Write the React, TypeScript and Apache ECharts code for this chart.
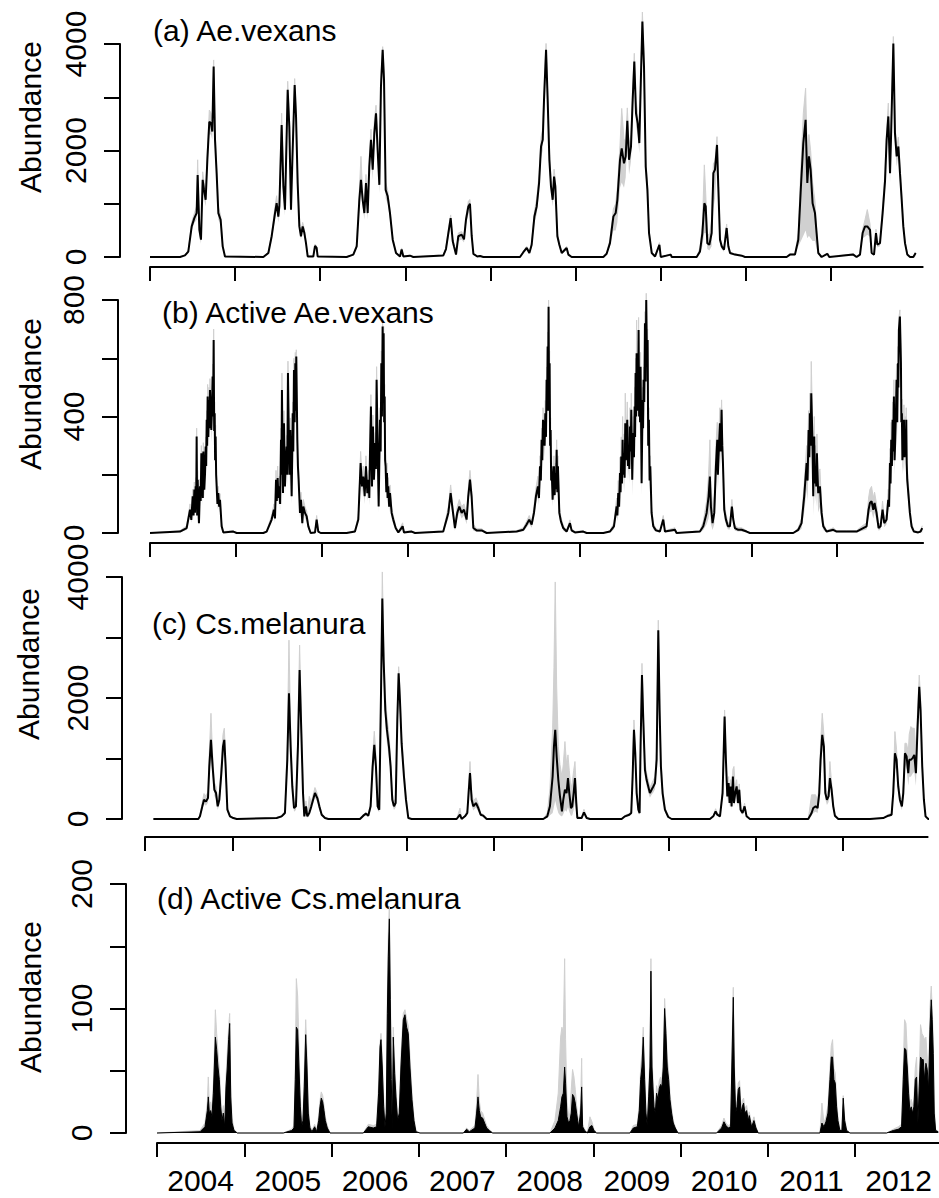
import React, { useEffect, useRef } from "react";
import * as echarts from "echarts";

const FONT = "'Liberation Sans', Arial, Helvetica, sans-serif";

const yearTicks = [2004, 2005, 2006, 2007, 2008, 2009, 2010, 2011, 2012];
const yearLabelPos = [2004.5, 2005.5, 2006.5, 2007.5, 2008.5, 2009.5, 2010.5, 2011.5, 2012.5];

// ---------- (a) Ae.vexans ----------
const vexT = [
  2004.000, 2004.353, 2004.411, 2004.450, 2004.490, 2004.521, 2004.548, 2004.560, 2004.580, 2004.599, 2004.619, 2004.635, 2004.654, 2004.674, 2004.697, 2004.717, 2004.732, 2004.748, 2004.764, 2004.783, 2004.803, 2004.830, 2004.854, 2004.881,
  2005.332, 2005.391, 2005.430, 2005.469, 2005.488, 2005.508, 2005.520, 2005.547, 2005.567, 2005.586, 2005.618, 2005.637, 2005.657, 2005.673, 2005.700, 2005.716, 2005.735, 2005.755, 2005.774, 2005.794, 2005.814, 2005.833, 2005.853, 2005.919, 2005.939, 2005.958, 2005.970,
  2006.311, 2006.389, 2006.429, 2006.460, 2006.479, 2006.499, 2006.519, 2006.538, 2006.558, 2006.577, 2006.597, 2006.617, 2006.636, 2006.656, 2006.675, 2006.695, 2006.714, 2006.734, 2006.750, 2006.769, 2006.793, 2006.820, 2006.852, 2006.891, 2006.938, 2006.957, 2006.977, 2007.055, 2007.094,
  2007.447, 2007.478, 2007.506, 2007.533, 2007.557, 2007.572, 2007.596, 2007.623, 2007.662, 2007.690, 2007.713, 2007.741, 2007.760, 2007.780, 2007.800, 2007.846, 2007.878, 2007.917,
  2008.348, 2008.387, 2008.427, 2008.458, 2008.485, 2008.517, 2008.544, 2008.572, 2008.595, 2008.615, 2008.630, 2008.654, 2008.673, 2008.693, 2008.712, 2008.732, 2008.748, 2008.763, 2008.787, 2008.810, 2008.838, 2008.896, 2008.916, 2008.955,
  2009.327, 2009.366, 2009.405, 2009.445, 2009.472, 2009.492, 2009.523, 2009.543, 2009.570, 2009.590, 2009.609, 2009.629, 2009.652, 2009.672, 2009.691, 2009.711, 2009.731, 2009.750, 2009.770, 2009.786, 2009.805, 2009.825, 2009.845, 2009.864, 2009.896, 2009.935, 2009.986, 2010.002, 2010.119, 2010.131,
  2010.424, 2010.463, 2010.491, 2010.514, 2010.530, 2010.549, 2010.573, 2010.600, 2010.620, 2010.639, 2010.663, 2010.678, 2010.698, 2010.718, 2010.745, 2010.776, 2010.796, 2010.816, 2010.874, 2010.953, 2010.992,
  2011.481, 2011.520, 2011.579, 2011.618, 2011.649, 2011.677, 2011.704, 2011.724, 2011.743, 2011.763, 2011.786, 2011.814, 2011.833, 2011.853, 2011.892, 2011.959, 2011.982, 2012.264, 2012.303,
  2012.343, 2012.374, 2012.402, 2012.429, 2012.461, 2012.480, 2012.508, 2012.531, 2012.547, 2012.578, 2012.609, 2012.637, 2012.656, 2012.676, 2012.696, 2012.707, 2012.735, 2012.754, 2012.774, 2012.794, 2012.813, 2012.833, 2012.852, 2012.872, 2012.899, 2012.931, 2012.970, 2012.997,
];
const vexMean = [
  0, 0, 30, 100, 575, 730, 825, 1540, 510, 325, 1450, 1260, 1075, 1825, 2540, 2510, 2355, 3575, 2200, 1575, 825, 700, 200, 10,
  0, 75, 390, 825, 1010, 760, 950, 2480, 1325, 890, 3140, 2450, 890, 1825, 3230, 2640, 1390, 575, 390, 575, 450, 260, 10, 10, 210, 170, 10,
  0, 45, 200, 1075, 1450, 1075, 825, 1390, 825, 1700, 2200, 1640, 2325, 2700, 2010, 1355, 3200, 3890, 3325, 1260, 1140, 825, 325, 75, 10, 140, 10, 25, 0,
  30, 150, 450, 730, 300, 200, 45, 390, 420, 330, 700, 950, 1000, 400, 60, 10, 20, 0,
  0, 90, 170, 75, 230, 760, 950, 1390, 2075, 2200, 2950, 3890, 2950, 1825, 1325, 1075, 1510, 1325, 390, 230, 75, 170, 45, 0,
  0, 60, 260, 760, 825, 1075, 1825, 2040, 1760, 1890, 2560, 1825, 2075, 2950, 3670, 2700, 2510, 2140, 3450, 4420, 3575, 1700, 1260, 450, 75, 10, 230, 0, 45, 0,
  0, 105, 450, 1010, 950, 260, 230, 450, 1575, 1640, 2105, 1325, 325, 200, 140, 545, 200, 75, 45, 25, 0,
  0, 45, 45, 325, 1325, 2140, 2575, 1390, 1890, 1640, 1010, 825, 450, 75, 0, 60, 0, 45, 0,
  45, 450, 575, 575, 510, 75, 45, 450, 230, 260, 825, 1420, 2200, 2640, 1575, 2200, 4010, 2325, 1890, 2075, 1575, 1075, 575, 260, 45, 0, 0, 75,
];
const vexLow = [
  0, 0, 20, 70, 500, 640, 700, 1300, 420, 250, 1300, 1100, 950, 1650, 2300, 2300, 2200, 3400, 2000, 1450, 700, 620, 150, 0,
  0, 50, 330, 700, 870, 650, 850, 2250, 1150, 780, 2900, 2250, 780, 1650, 3000, 2450, 1250, 500, 330, 500, 380, 200, 0, 0, 170, 140, 0,
  0, 30, 160, 900, 1250, 950, 700, 1200, 700, 1500, 2000, 1450, 2100, 2500, 1800, 1200, 3000, 3750, 3100, 1100, 1000, 700, 270, 50, 0, 110, 0, 15, 0,
  20, 100, 350, 600, 220, 150, 30, 300, 330, 270, 600, 800, 900, 330, 40, 0, 10, 0,
  0, 70, 130, 50, 180, 650, 800, 1200, 1850, 2000, 2700, 3700, 2750, 1650, 1200, 950, 1350, 1200, 330, 180, 50, 130, 30, 0,
  0, 40, 200, 500, 500, 650, 1300, 1400, 1300, 1500, 2250, 1550, 1800, 2700, 3450, 2450, 2300, 1950, 3250, 4200, 3350, 1500, 1100, 380, 50, 0, 180, 0, 30, 0,
  0, 60, 200, 450, 450, 150, 120, 200, 900, 1100, 1700, 1050, 250, 150, 100, 450, 150, 50, 30, 15, 0,
  0, 30, 30, 200, 300, 400, 500, 350, 400, 350, 300, 300, 150, 40, 0, 40, 0, 30, 0,
  30, 350, 380, 420, 380, 50, 30, 380, 180, 200, 700, 1250, 2000, 2400, 1400, 2000, 3850, 2100, 1700, 1900, 1400, 950, 500, 200, 30, 0, 0, 60,
];
const vexHigh = [
  0, 0, 40, 130, 650, 820, 950, 1825, 600, 400, 1600, 1400, 1200, 2000, 2760, 2700, 2500, 3700, 2400, 1700, 950, 780, 250, 20,
  0, 100, 450, 950, 1150, 850, 1050, 2700, 1500, 1000, 3300, 2650, 1000, 2000, 3350, 2800, 1550, 650, 450, 650, 520, 300, 20, 20, 240, 200, 20,
  0, 60, 240, 1250, 1890, 1200, 950, 1550, 950, 1900, 2400, 1800, 2550, 2850, 2200, 1500, 3400, 3950, 3500, 1400, 1250, 900, 380, 90, 20, 170, 20, 35, 0,
  40, 180, 520, 790, 360, 240, 60, 450, 480, 380, 760, 1050, 1080, 450, 80, 20, 30, 0,
  0, 110, 200, 100, 280, 850, 1100, 1550, 2250, 2400, 3150, 4010, 3100, 2000, 1450, 1200, 1650, 1450, 450, 270, 90, 200, 60, 0,
  0, 80, 330, 900, 1000, 1300, 2100, 2790, 2200, 2200, 2800, 2100, 2300, 3200, 3825, 2950, 2700, 2350, 3600, 4600, 3750, 1850, 1400, 520, 90, 20, 270, 0, 60, 0,
  0, 180, 600, 1730, 1200, 450, 400, 700, 1750, 1800, 2260, 1450, 380, 240, 170, 620, 240, 90, 60, 35, 0,
  0, 60, 60, 450, 1700, 2700, 3170, 1900, 2300, 2000, 1400, 1050, 550, 90, 0, 75, 0, 60, 0,
  60, 520, 700, 890, 620, 100, 60, 520, 270, 300, 950, 1600, 2400, 2890, 1750, 2400, 4140, 2500, 2050, 2250, 1700, 1200, 650, 300, 60, 0, 0, 90,
];

// ---------- (b) Active Ae.vexans ----------
const actVexT = [
  2004.000, 2004.349, 2004.427, 2004.466, 2004.481, 2004.497, 2004.507, 2004.516, 2004.524, 2004.532, 2004.538, 2004.543, 2004.549, 2004.555, 2004.562, 2004.570, 2004.582, 2004.590, 2004.598, 2004.603, 2004.609, 2004.615, 2004.621, 2004.632, 2004.640, 2004.648, 2004.654, 2004.660, 2004.665, 2004.671, 2004.679, 2004.687, 2004.692, 2004.698, 2004.714, 2004.721, 2004.729, 2004.735, 2004.741, 2004.747, 2004.753, 2004.758, 2004.764, 2004.770, 2004.776, 2004.785, 2004.795, 2004.805, 2004.815, 2004.834, 2004.854, 2004.970, 2005.009,
  2005.319, 2005.358, 2005.416, 2005.443, 2005.455, 2005.467, 2005.476, 2005.486, 2005.495, 2005.505, 2005.515, 2005.525, 2005.530, 2005.536, 2005.548, 2005.554, 2005.560, 2005.571, 2005.581, 2005.591, 2005.598, 2005.606, 2005.618, 2005.625, 2005.633, 2005.649, 2005.655, 2005.661, 2005.668, 2005.676, 2005.684, 2005.692, 2005.697, 2005.703, 2005.715, 2005.722, 2005.730, 2005.746, 2005.758, 2005.773, 2005.785, 2005.804, 2005.824, 2005.843, 2005.870, 2005.921, 2005.940, 2005.959, 2005.987,
  2006.289, 2006.386, 2006.425, 2006.452, 2006.468, 2006.483, 2006.499, 2006.514, 2006.530, 2006.545, 2006.553, 2006.561, 2006.572, 2006.584, 2006.596, 2006.607, 2006.623, 2006.630, 2006.638, 2006.650, 2006.662, 2006.677, 2006.685, 2006.693, 2006.700, 2006.708, 2006.714, 2006.720, 2006.726, 2006.732, 2006.737, 2006.743, 2006.751, 2006.759, 2006.766, 2006.774, 2006.784, 2006.794, 2006.813, 2006.832, 2006.860, 2006.891, 2006.941, 2006.957, 2007.046, 2007.085,
  2007.414, 2007.473, 2007.500, 2007.523, 2007.550, 2007.577, 2007.601, 2007.628, 2007.655, 2007.686, 2007.705, 2007.725, 2007.744, 2007.764, 2007.802, 2007.861, 2007.919,
  2008.268, 2008.346, 2008.384, 2008.415, 2008.443, 2008.470, 2008.493, 2008.516, 2008.528, 2008.540, 2008.550, 2008.559, 2008.567, 2008.575, 2008.586, 2008.594, 2008.602, 2008.610, 2008.617, 2008.623, 2008.629, 2008.635, 2008.640, 2008.646, 2008.652, 2008.658, 2008.664, 2008.670, 2008.675, 2008.687, 2008.703, 2008.711, 2008.718, 2008.726, 2008.734, 2008.742, 2008.749, 2008.765, 2008.784, 2008.811, 2008.850, 2008.889, 2008.908, 2008.947, 2009.044, 2009.083,
  2009.277, 2009.354, 2009.401, 2009.432, 2009.441, 2009.451, 2009.461, 2009.471, 2009.478, 2009.486, 2009.494, 2009.502, 2009.509, 2009.517, 2009.525, 2009.533, 2009.539, 2009.545, 2009.556, 2009.564, 2009.572, 2009.580, 2009.587, 2009.595, 2009.603, 2009.614, 2009.620, 2009.626, 2009.634, 2009.642, 2009.647, 2009.653, 2009.659, 2009.665, 2009.670, 2009.676, 2009.682, 2009.688, 2009.694, 2009.700, 2009.705, 2009.711, 2009.723, 2009.729, 2009.735, 2009.740, 2009.746, 2009.754, 2009.762, 2009.770, 2009.777, 2009.785, 2009.793, 2009.800, 2009.808, 2009.816, 2009.824, 2009.839, 2009.859, 2009.890, 2009.936, 2009.975, 2009.995, 2010.111, 2010.130,
  2010.402, 2010.441, 2010.480, 2010.503, 2010.518, 2010.530, 2010.549, 2010.569, 2010.588, 2010.604, 2010.611, 2010.619, 2010.635, 2010.645, 2010.654, 2010.662, 2010.670, 2010.685, 2010.705, 2010.728, 2010.751, 2010.774, 2010.790, 2010.809, 2010.848, 2010.887, 2010.945, 2010.984,
  2011.488, 2011.547, 2011.585, 2011.616, 2011.644, 2011.655, 2011.667, 2011.675, 2011.682, 2011.690, 2011.698, 2011.710, 2011.721, 2011.733, 2011.740, 2011.748, 2011.756, 2011.764, 2011.771, 2011.779, 2011.799, 2011.818, 2011.838, 2011.876, 2011.954, 2011.993, 2012.109, 2012.226, 2012.264,
  2012.342, 2012.365, 2012.381, 2012.400, 2012.420, 2012.435, 2012.458, 2012.482, 2012.505, 2012.528, 2012.548, 2012.575, 2012.594, 2012.604, 2012.614, 2012.621, 2012.629, 2012.637, 2012.645, 2012.652, 2012.660, 2012.668, 2012.676, 2012.683, 2012.691, 2012.699, 2012.707, 2012.712, 2012.718, 2012.730, 2012.742, 2012.747, 2012.753, 2012.759, 2012.765, 2012.771, 2012.777, 2012.784, 2012.792, 2012.798, 2012.804, 2012.809, 2012.815, 2012.831, 2012.846, 2012.866, 2012.893, 2012.943, 2012.971, 2012.990,
];
const actVexMean = [
  0, 5, 17, 80, 45, 126, 60, 149, 70, 160, 90, 331, 60, 183, 100, 34, 160, 110, 274, 140, 183, 120, 280, 149, 200, 297, 230, 389, 300, 469, 330, 457, 360, 491, 354, 420, 537, 400, 663, 350, 411, 250, 331, 200, 160, 100, 137, 90, 114, 23, 2, 5, 0,
  0, 5, 46, 80, 50, 183, 110, 189, 120, 160, 100, 320, 200, 491, 137, 250, 377, 160, 240, 297, 200, 549, 297, 200, 354, 126, 250, 411, 280, 560, 380, 583, 420, 606, 320, 230, 183, 69, 114, 34, 91, 69, 57, 23, 0, 2, 46, 5, 0,
  0, 5, 46, 240, 160, 194, 126, 229, 137, 183, 120, 274, 434, 160, 366, 183, 309, 220, 526, 297, 91, 389, 280, 583, 400, 709, 520, 686, 380, 469, 250, 229, 140, 206, 120, 160, 90, 137, 69, 46, 17, 2, 23, 2, 5, 0,
  5, 69, 137, 80, 17, 69, 91, 69, 80, 46, 126, 183, 126, 17, 9, 9, 0,
  5, 11, 29, 46, 29, 69, 126, 160, 120, 229, 180, 320, 250, 389, 343, 300, 411, 330, 526, 420, 640, 480, 777, 420, 583, 300, 354, 180, 229, 114, 229, 130, 206, 150, 286, 140, 229, 69, 40, 17, 5, 34, 9, 2, 5, 0,
  0, 5, 23, 91, 60, 137, 90, 206, 140, 263, 170, 320, 200, 274, 190, 377, 250, 251, 389, 230, 297, 220, 366, 280, 423, 183, 280, 343, 260, 434, 330, 549, 400, 617, 420, 549, 450, 697, 400, 503, 380, 571, 171, 320, 457, 360, 526, 450, 720, 520, 800, 600, 663, 300, 389, 180, 229, 69, 23, 9, 5, 46, 5, 11, 0,
  5, 23, 69, 126, 194, 91, 34, 69, 229, 320, 200, 263, 377, 280, 423, 300, 240, 80, 46, 23, 23, 91, 46, 17, 11, 11, 5, 0,
  0, 11, 34, 126, 240, 180, 354, 260, 411, 300, 480, 343, 126, 331, 170, 229, 160, 274, 200, 137, 160, 69, 23, 5, 11, 5, 5, 5, 11,
  23, 80, 103, 109, 80, 103, 69, 17, 23, 80, 34, 46, 114, 90, 240, 170, 320, 230, 389, 280, 469, 250, 320, 400, 526, 380, 583, 500, 697, 743, 583, 380, 411, 250, 274, 260, 389, 260, 354, 280, 389, 240, 183, 126, 69, 23, 5, 2, 5, 17,
];
const actVexLow = [
  0, 2, 10, 60, 35, 100, 45, 125, 55, 135, 70, 290, 45, 150, 80, 20, 130, 90, 240, 115, 150, 95, 245, 120, 170, 260, 195, 350, 260, 420, 290, 410, 320, 450, 310, 380, 490, 360, 620, 310, 370, 210, 290, 170, 130, 80, 110, 70, 90, 12, 0, 2, 0,
  0, 2, 35, 60, 35, 150, 85, 155, 95, 130, 75, 280, 160, 440, 110, 200, 335, 130, 200, 260, 160, 505, 260, 160, 315, 100, 200, 370, 240, 520, 340, 545, 380, 570, 280, 190, 150, 50, 90, 20, 70, 50, 40, 12, 0, 0, 35, 2, 0,
  0, 2, 35, 200, 130, 160, 100, 195, 110, 150, 95, 240, 395, 130, 330, 150, 275, 180, 480, 260, 70, 350, 240, 540, 360, 680, 480, 650, 340, 430, 210, 195, 110, 175, 95, 130, 70, 110, 50, 30, 10, 0, 12, 0, 2, 0,
  2, 50, 110, 60, 8, 50, 70, 50, 60, 30, 100, 150, 100, 8, 4, 4, 0,
  2, 6, 18, 32, 18, 50, 100, 130, 95, 195, 150, 280, 210, 350, 300, 260, 370, 290, 480, 370, 600, 430, 750, 370, 540, 260, 310, 150, 195, 90, 195, 100, 175, 120, 250, 110, 195, 50, 28, 8, 2, 22, 4, 0, 2, 0,
  0, 2, 12, 60, 40, 90, 60, 150, 100, 200, 130, 250, 150, 210, 140, 300, 190, 190, 320, 180, 230, 170, 300, 220, 360, 130, 220, 290, 200, 380, 270, 500, 340, 560, 360, 500, 390, 650, 340, 450, 320, 520, 130, 260, 410, 300, 480, 390, 680, 470, 770, 550, 620, 250, 350, 140, 195, 50, 12, 4, 2, 35, 2, 5, 0,
  2, 10, 30, 50, 80, 30, 10, 30, 150, 250, 150, 200, 320, 220, 380, 240, 190, 50, 28, 12, 12, 70, 30, 8, 5, 5, 2, 0,
  0, 5, 15, 70, 150, 110, 250, 180, 300, 220, 380, 250, 60, 240, 100, 140, 90, 180, 120, 70, 90, 35, 10, 2, 5, 2, 2, 2, 5,
  12, 50, 70, 75, 50, 70, 40, 8, 12, 55, 20, 30, 85, 70, 190, 130, 270, 180, 340, 230, 420, 200, 270, 350, 480, 330, 530, 450, 650, 710, 540, 330, 370, 200, 230, 210, 340, 210, 310, 230, 340, 190, 140, 95, 50, 12, 2, 0, 2, 10,
];
const actVexHigh = [
  0, 8, 25, 100, 60, 150, 75, 175, 85, 190, 110, 360, 75, 215, 120, 50, 185, 130, 300, 165, 215, 145, 310, 180, 230, 330, 265, 420, 340, 510, 370, 500, 400, 530, 400, 460, 580, 440, 700, 390, 450, 290, 370, 230, 190, 120, 160, 110, 135, 35, 5, 8, 0,
  0, 8, 60, 100, 65, 215, 135, 230, 145, 195, 125, 360, 240, 549, 170, 300, 420, 195, 280, 335, 240, 590, 335, 240, 395, 155, 300, 450, 320, 600, 420, 620, 460, 629, 360, 270, 215, 90, 140, 50, 115, 90, 75, 35, 0, 5, 60, 8, 0,
  0, 8, 60, 280, 195, 230, 155, 265, 170, 215, 145, 310, 475, 195, 405, 215, 345, 260, 571, 335, 115, 430, 320, 625, 440, 720, 560, 710, 420, 510, 290, 265, 170, 240, 145, 190, 110, 165, 90, 60, 25, 5, 35, 5, 8, 0,
  8, 90, 165, 100, 30, 90, 115, 90, 100, 65, 150, 215, 150, 30, 15, 15, 0,
  8, 18, 40, 60, 40, 90, 155, 195, 145, 265, 210, 360, 290, 430, 385, 340, 455, 370, 570, 470, 690, 530, 800, 470, 625, 340, 395, 210, 265, 140, 265, 160, 240, 180, 320, 170, 265, 90, 55, 25, 8, 45, 15, 5, 8, 0,
  0, 8, 35, 120, 80, 180, 120, 260, 180, 330, 215, 400, 250, 340, 240, 480, 310, 320, 450, 290, 370, 280, 430, 340, 480, 240, 340, 400, 320, 500, 390, 600, 460, 731, 480, 600, 510, 740, 460, 560, 440, 620, 220, 380, 500, 420, 570, 510, 760, 580, 823, 650, 700, 360, 430, 220, 265, 90, 35, 15, 8, 60, 8, 18, 0,
  8, 40, 110, 200, 320, 160, 90, 130, 300, 380, 260, 320, 430, 330, 457, 350, 290, 110, 65, 35, 35, 115, 60, 25, 18, 18, 8, 0,
  0, 18, 50, 170, 300, 240, 420, 330, 480, 370, 589, 420, 220, 400, 230, 300, 220, 340, 260, 200, 220, 100, 35, 8, 18, 8, 8, 8, 18,
  35, 120, 150, 160, 120, 140, 100, 30, 35, 110, 50, 65, 150, 120, 290, 210, 380, 280, 450, 330, 526, 300, 380, 450, 580, 430, 640, 550, 740, 766, 630, 430, 460, 300, 330, 310, 440, 310, 400, 330, 430, 290, 230, 160, 90, 35, 8, 5, 8, 25,
];

// ---------- (c) Cs.melanura ----------
const melT = [
  2004.096, 2004.611, 2004.630, 2004.657, 2004.676, 2004.699, 2004.722, 2004.737, 2004.756, 2004.775, 2004.795, 2004.814, 2004.833, 2004.852, 2004.875, 2004.894, 2004.909, 2004.924, 2004.944, 2004.974, 2005.012, 2005.051,
  2005.509, 2005.566, 2005.604, 2005.631, 2005.650, 2005.669, 2005.688, 2005.708, 2005.730, 2005.753, 2005.772, 2005.792, 2005.811, 2005.826, 2005.845, 2005.860, 2005.883, 2005.906, 2005.948, 2005.975, 2005.998, 2006.025, 2006.063, 2006.101,
  2006.464, 2006.502, 2006.533, 2006.559, 2006.586, 2006.609, 2006.628, 2006.647, 2006.666, 2006.685, 2006.705, 2006.720, 2006.735, 2006.754, 2006.773, 2006.796, 2006.815, 2006.834, 2006.854, 2006.873, 2006.892, 2006.907, 2006.922, 2006.941, 2006.968, 2006.991, 2007.018, 2007.056,
  2007.572, 2007.610, 2007.629, 2007.667, 2007.694, 2007.709, 2007.725, 2007.744, 2007.763, 2007.793, 2007.820, 2007.847, 2007.877, 2007.916,
  2008.565, 2008.611, 2008.641, 2008.672, 2008.687, 2008.702, 2008.718, 2008.737, 2008.756, 2008.779, 2008.794, 2008.813, 2008.832, 2008.848, 2008.863, 2008.882, 2008.897, 2008.913, 2008.928, 2008.943, 2008.955, 2009.004, 2009.031, 2009.062, 2009.100,
  2009.463, 2009.501, 2009.550, 2009.573, 2009.589, 2009.604, 2009.619, 2009.635, 2009.654, 2009.669, 2009.680, 2009.696, 2009.711, 2009.730, 2009.749, 2009.768, 2009.787, 2009.806, 2009.826, 2009.845, 2009.864, 2009.883, 2009.898, 2009.913, 2009.932, 2009.959, 2009.997, 2010.036,
  2010.475, 2010.513, 2010.540, 2010.559, 2010.590, 2010.620, 2010.643, 2010.658, 2010.674, 2010.689, 2010.700, 2010.712, 2010.723, 2010.738, 2010.750, 2010.765, 2010.781, 2010.796, 2010.811, 2010.826, 2010.849, 2010.872, 2010.895, 2010.933,
  2011.602, 2011.640, 2011.659, 2011.686, 2011.709, 2011.728, 2011.743, 2011.762, 2011.781, 2011.797, 2011.816, 2011.835, 2011.850, 2011.869, 2011.888, 2011.907, 2011.946,
  2012.309, 2012.461, 2012.519, 2012.557, 2012.576, 2012.595, 2012.614, 2012.633, 2012.652, 2012.675, 2012.691, 2012.710, 2012.729, 2012.748, 2012.759, 2012.778, 2012.797, 2012.817, 2012.836, 2012.855, 2012.874, 2012.889, 2012.908, 2012.927, 2012.946, 2012.977, 2013.008,
];
const melMean = [
  0, 0, 44, 209, 319, 291, 346, 868, 1308, 868, 484, 429, 209, 319, 758, 1198, 1308, 868, 154, 44, 16, 0,
  16, 44, 99, 978, 2077, 1198, 538, 181, 209, 1198, 2462, 1418, 429, 44, 209, 44, 99, 209, 429, 346, 209, 71, 16, 0,
  0, 55, 88, 55, 209, 868, 1225, 868, 209, 154, 2077, 3643, 2627, 1802, 1473, 1198, 868, 319, 209, 264, 1637, 2407, 1967, 1253, 703, 319, 16, 0,
  0, 71, 0, 44, 99, 429, 758, 319, 209, 264, 181, 71, 55, 0,
  0, 44, 209, 703, 1198, 1473, 1033, 648, 374, 126, 319, 484, 429, 676, 429, 181, 209, 429, 676, 264, 16, 16, 110, 16, 0,
  0, 44, 71, 99, 703, 1473, 1088, 429, 154, 99, 1198, 2379, 1637, 813, 648, 538, 429, 484, 538, 593, 978, 3121, 1802, 868, 429, 154, 33, 0,
  0, 44, 126, 71, 44, 429, 1692, 978, 374, 593, 264, 538, 209, 703, 264, 429, 538, 264, 484, 154, 99, 209, 44, 0,
  0, 99, 181, 209, 181, 429, 978, 1390, 1198, 429, 319, 374, 676, 484, 209, 55, 0,
  0, 16, 55, 71, 429, 1088, 978, 538, 319, 209, 429, 1088, 1033, 758, 978, 978, 1006, 1060, 758, 1528, 2187, 1802, 868, 319, 44, 0, 0,
];
const melLow = [
  0, 0, 30, 150, 250, 220, 270, 700, 1000, 700, 380, 330, 150, 240, 600, 1000, 1150, 750, 110, 30, 8, 0,
  8, 30, 70, 750, 1750, 950, 420, 120, 150, 950, 2150, 1150, 330, 20, 140, 20, 50, 150, 350, 280, 160, 50, 8, 0,
  0, 35, 65, 35, 150, 700, 1000, 700, 150, 110, 1750, 3300, 2300, 1550, 1250, 1000, 720, 230, 150, 190, 1400, 2200, 1750, 1100, 580, 240, 8, 0,
  0, 30, 0, 30, 60, 300, 600, 220, 140, 190, 120, 45, 35, 0,
  0, 20, 60, 100, 200, 300, 200, 100, 60, 40, 80, 150, 120, 200, 120, 50, 60, 150, 300, 80, 5, 5, 70, 5, 0,
  0, 30, 50, 70, 550, 1300, 900, 350, 110, 70, 1000, 2150, 1400, 680, 540, 440, 350, 400, 440, 490, 820, 2900, 1600, 720, 340, 110, 20, 0,
  0, 30, 90, 50, 30, 340, 1500, 850, 290, 480, 190, 430, 150, 590, 200, 340, 430, 190, 390, 110, 70, 160, 30, 0,
  0, 50, 100, 120, 100, 300, 750, 1150, 1000, 330, 230, 280, 520, 370, 150, 35, 0,
  0, 8, 35, 50, 320, 850, 800, 420, 240, 150, 330, 900, 820, 550, 700, 700, 750, 780, 550, 1300, 2000, 1600, 720, 240, 30, 0, 0,
];
const melHigh = [
  0, 0, 60, 280, 420, 380, 450, 1100, 1747, 1050, 600, 540, 280, 420, 950, 1400, 1500, 1000, 200, 60, 25, 0,
  25, 60, 130, 1300, 2956, 1500, 700, 260, 300, 1500, 2874, 1700, 550, 80, 300, 80, 374, 280, 520, 420, 260, 95, 25, 0,
  0, 75, 110, 75, 270, 1050, 1450, 1050, 280, 200, 2400, 4083, 2950, 2050, 1700, 1400, 1000, 420, 280, 340, 1850, 2517, 2150, 1400, 820, 400, 25, 0,
  0, 180, 10, 60, 150, 600, 950, 450, 300, 350, 250, 100, 75, 0,
  0, 100, 500, 1500, 2500, 3918, 2200, 1200, 900, 700, 900, 1280, 900, 1060, 800, 500, 600, 800, 950, 500, 40, 30, 160, 30, 0,
  0, 60, 90, 130, 850, 1637, 1250, 520, 200, 130, 1400, 2572, 1850, 950, 760, 640, 520, 580, 640, 700, 1150, 3286, 2000, 1000, 520, 200, 50, 0,
  0, 60, 170, 100, 60, 520, 1802, 1100, 460, 700, 340, 650, 280, 820, 868, 520, 650, 340, 580, 200, 130, 260, 60, 0,
  0, 400, 400, 400, 300, 600, 1250, 1747, 1400, 550, 420, 480, 950, 600, 280, 80, 0,
  0, 25, 75, 95, 550, 1445, 1150, 650, 400, 280, 550, 1253, 1250, 1100, 1400, 1528, 1500, 1500, 1150, 1800, 2379, 2000, 1000, 400, 60, 0, 0,
];

// ---------- (d) Active Cs.melanura ----------
const actMelT = [
  2004.000, 2004.493, 2004.550, 2004.577, 2004.588, 2004.600, 2004.615, 2004.630, 2004.646, 2004.657, 2004.669, 2004.684, 2004.699, 2004.714, 2004.730, 2004.745, 2004.760, 2004.776, 2004.791, 2004.806, 2004.821, 2004.833, 2004.845, 2004.860, 2004.883, 2004.920,
  2005.448, 2005.543, 2005.570, 2005.585, 2005.597, 2005.612, 2005.627, 2005.643, 2005.658, 2005.673, 2005.688, 2005.704, 2005.719, 2005.734, 2005.753, 2005.776, 2005.807, 2005.830, 2005.853, 2005.868, 2005.883, 2005.899, 2005.914, 2005.929, 2005.952, 2005.983,
  2006.365, 2006.422, 2006.479, 2006.517, 2006.540, 2006.556, 2006.567, 2006.582, 2006.598, 2006.613, 2006.628, 2006.640, 2006.651, 2006.663, 2006.674, 2006.685, 2006.697, 2006.708, 2006.724, 2006.739, 2006.758, 2006.777, 2006.796, 2006.823, 2006.842, 2006.861, 2006.880, 2006.899, 2006.922, 2006.945, 2006.968, 2007.014,
  2007.511, 2007.549, 2007.579, 2007.644, 2007.663, 2007.679, 2007.694, 2007.709, 2007.732, 2007.755, 2007.778, 2007.809, 2007.847,
  2008.504, 2008.561, 2008.599, 2008.626, 2008.641, 2008.657, 2008.672, 2008.683, 2008.699, 2008.718, 2008.733, 2008.748, 2008.763, 2008.779, 2008.794, 2008.809, 2008.832, 2008.855, 2008.867, 2008.878, 2008.901, 2008.932, 2008.962, 2008.985, 2009.008, 2009.039,
  2009.421, 2009.459, 2009.505, 2009.528, 2009.543, 2009.558, 2009.573, 2009.589, 2009.604, 2009.619, 2009.635, 2009.650, 2009.661, 2009.673, 2009.684, 2009.696, 2009.711, 2009.726, 2009.741, 2009.757, 2009.772, 2009.787, 2009.803, 2009.818, 2009.833, 2009.848, 2009.864, 2009.879, 2009.898, 2009.917, 2009.940, 2009.971,
  2010.414, 2010.471, 2010.498, 2010.521, 2010.547, 2010.574, 2010.593, 2010.605, 2010.616, 2010.632, 2010.647, 2010.662, 2010.677, 2010.693, 2010.708, 2010.723, 2010.738, 2010.758, 2010.777, 2010.788, 2010.815, 2010.842, 2010.865, 2010.891,
  2011.598, 2011.621, 2011.644, 2011.667, 2011.690, 2011.713, 2011.728, 2011.743, 2011.758, 2011.774, 2011.789, 2011.804, 2011.827, 2011.850, 2011.865, 2011.881, 2011.904, 2011.942,
  2012.362, 2012.438, 2012.496, 2012.534, 2012.553, 2012.568, 2012.584, 2012.599, 2012.614, 2012.629, 2012.645, 2012.660, 2012.675, 2012.691, 2012.706, 2012.721, 2012.736, 2012.751, 2012.767, 2012.782, 2012.797, 2012.813, 2012.828, 2012.843, 2012.859, 2012.874, 2012.885, 2012.897, 2012.908, 2012.924, 2012.954,
];
const actMelMean = [
  0, 1, 5, 18, 29, 16, 18, 13, 32, 53, 77, 67, 53, 43, 21, 10, 16, 5, 37, 53, 75, 88, 29, 8, 2, 0,
  0, 2, 4, 43, 85, 83, 53, 21, 5, 10, 37, 79, 53, 16, 4, 1, 5, 1, 10, 21, 28, 25, 18, 10, 4, 0,
  0, 5, 4, 5, 32, 69, 75, 53, 21, 5, 16, 96, 142, 172, 107, 43, 1, 77, 48, 29, 10, 16, 53, 91, 95, 85, 80, 53, 27, 10, 1, 0,
  0, 3, 1, 4, 16, 29, 18, 13, 12, 8, 4, 2, 0,
  0, 4, 10, 21, 29, 32, 53, 40, 13, 8, 10, 16, 31, 29, 24, 16, 5, 16, 37, 5, 2, 0, 5, 6, 2, 0,
  0, 4, 5, 18, 43, 53, 77, 43, 16, 6, 29, 53, 130, 53, 37, 21, 16, 32, 27, 36, 39, 37, 53, 100, 80, 53, 43, 27, 16, 8, 4, 0,
  0, 4, 9, 6, 4, 5, 69, 109, 53, 16, 21, 35, 37, 16, 21, 24, 16, 18, 10, 14, 5, 10, 4, 0,
  0, 8, 5, 9, 16, 43, 61, 61, 43, 40, 21, 10, 2, 2, 28, 10, 2, 0,
  0, 2, 3, 5, 43, 68, 67, 53, 32, 18, 21, 16, 21, 43, 45, 8, 37, 61, 59, 59, 43, 56, 51, 35, 83, 107, 91, 64, 16, 2, 1,
];
const actMelHigh = [
  0, 2, 8, 25, 45, 22, 25, 20, 40, 65, 99, 80, 65, 52, 28, 15, 22, 8, 45, 65, 85, 96, 38, 12, 3, 0,
  0, 3, 6, 55, 124, 110, 70, 30, 8, 15, 50, 91, 65, 22, 6, 2, 7, 2, 14, 26, 33, 30, 22, 13, 6, 0,
  0, 7, 6, 7, 40, 72, 80, 62, 28, 8, 22, 110, 160, 182, 120, 55, 3, 85, 58, 36, 14, 22, 62, 96, 99, 92, 86, 62, 33, 13, 2, 0,
  0, 4, 2, 6, 24, 47, 26, 18, 16, 11, 6, 3, 0,
  0, 10, 32, 77, 85, 80, 140, 75, 25, 14, 16, 35, 51, 45, 35, 22, 8, 22, 60, 7, 3, 0, 13, 9, 3, 0,
  0, 6, 7, 24, 52, 64, 85, 52, 20, 8, 36, 62, 140, 62, 44, 26, 20, 38, 32, 42, 45, 43, 62, 108, 88, 60, 50, 32, 20, 10, 5, 0,
  0, 6, 12, 8, 6, 7, 80, 117, 62, 20, 26, 40, 42, 20, 26, 28, 20, 22, 13, 17, 7, 13, 5, 0,
  0, 24, 8, 13, 22, 52, 70, 75, 52, 48, 27, 14, 3, 3, 30, 13, 3, 0,
  0, 3, 5, 7, 52, 91, 88, 65, 40, 24, 27, 22, 27, 52, 61, 12, 45, 87, 80, 78, 75, 77, 60, 45, 101, 118, 100, 75, 22, 3, 1,
];

const panels = [
  { title: "(a) Ae.vexans", T: vexT, mean: vexMean, low: vexLow, high: vexHigh, bars: false, lineW: 2,
    yMax: 4000, yStep: 1000, labelStep: 2000, left: 150, top: 44, height: 213, pxPerYear: 85.1, xMax: 2013.08,
    xOffset: 10, yOffset: 30, titleX: 153, titleY: 30, ylabX: 30, ylabY: 117 },
  { title: "(b) Active Ae.vexans", T: actVexT, mean: actVexMean, low: actVexLow, high: actVexHigh, bars: false, lineW: 2,
    yMax: 800, yStep: 200, labelStep: 400, left: 150, top: 300, height: 233, pxPerYear: 85.9, xMax: 2013.0,
    xOffset: 10, yOffset: 32, titleX: 162, titleY: 312, ylabX: 30, ylabY: 394 },
  { title: "(c) Cs.melanura", T: melT, mean: melMean, low: melLow, high: melHigh, bars: false, lineW: 2,
    yMax: 4000, yStep: 1000, labelStep: 2000, left: 145, top: 577, height: 242, pxPerYear: 87.25, xMax: 2012.97,
    xOffset: 18, yOffset: 23, titleX: 152, titleY: 623, ylabX: 28, ylabY: 664 },
  { title: "(d) Active Cs.melanura", T: actMelT, mean: actMelMean, low: null as number[] | null, high: actMelHigh, bars: true, lineW: 1,
    yMax: 200, yStep: 50, labelStep: 100, left: 157, top: 884, height: 249, pxPerYear: 87.25, xMax: 2013.1,
    xOffset: 10, yOffset: 31, titleX: 157, titleY: 898, ylabX: 30, ylabY: 997 },
];

function zip(T: number[], v: number[]) {
  return T.map((t, i) => [t, v[i]]);
}

export default function App() {
  const ref = useRef<HTMLDivElement>(null);
  useEffect(() => {
    if (!ref.current) return;
    const chart = echarts.init(ref.current, undefined, { renderer: "svg" });
    const grid: any[] = [];
    const xAxis: any[] = [];
    const yAxis: any[] = [];
    const series: any[] = [];
    const graphic: any[] = [];
    panels.forEach((p, i) => {
      grid.push({
        left: p.left, top: p.top, height: p.height,
        width: (p.xMax - 2004) * p.pxPerYear,
        containLabel: false, outerBoundsMode: "none",
      });
      xAxis.push({
        type: "value", gridIndex: i, min: 2004, max: p.xMax, interval: 1,
        offset: p.xOffset,
        axisLine: { show: true, onZero: false, lineStyle: { color: "#000", width: 2 } },
        axisTick: { show: true, customValues: yearTicks, length: 14, lineStyle: { color: "#000", width: 2 } },
        axisLabel: i === 3
          ? { show: true, customValues: yearLabelPos, formatter: (v: number) => String(Math.floor(v)),
              fontSize: 30, fontFamily: FONT, color: "#000", margin: 22 }
          : { show: false },
        splitLine: { show: false },
      });
      yAxis.push({
        type: "value", gridIndex: i, min: 0, max: p.yMax, interval: p.yStep,
        offset: p.yOffset,
        axisLine: { show: true, onZero: false, lineStyle: { color: "#000", width: 2 } },
        axisTick: { show: true, length: 16, lineStyle: { color: "#000", width: 2 } },
        axisLabel: {
          show: true, rotate: 90, margin: 30, fontSize: 30, fontFamily: FONT, color: "#000",
          formatter: (v: number) => (v % p.labelStep === 0 ? String(v) : ""),
        },
        splitLine: { show: false },
      });
      series.push({
        type: "line", xAxisIndex: i, yAxisIndex: i, data: zip(p.T, p.high),
        symbol: "none", clip: false, silent: true, z: 2,
        lineStyle: { color: "#d0d0d0", width: 1 },
        areaStyle: { color: "#d0d0d0", opacity: 1 },
      });
      if (p.low) {
        series.push({
          type: "line", xAxisIndex: i, yAxisIndex: i, data: zip(p.T, p.low),
          symbol: "none", clip: false, silent: true, z: 3,
          lineStyle: { color: "#fff", width: 0 },
          areaStyle: { color: "#fff", opacity: 1 },
        });
      }
      series.push({
        type: "line", xAxisIndex: i, yAxisIndex: i, data: zip(p.T, p.mean),
        symbol: "none", clip: false, silent: true, z: 4,
        lineStyle: { color: "#000", width: p.lineW },
        areaStyle: p.bars ? { color: "#000", opacity: 1 } : undefined,
      });
      graphic.push({
        type: "text", x: p.titleX, y: p.titleY, z: 0,
        style: { text: p.title, fontSize: 30, fontFamily: FONT, fill: "#000", align: "left", verticalAlign: "middle" },
      });
      graphic.push({
        type: "text", x: p.ylabX, y: p.ylabY, rotation: Math.PI / 2, z: 0,
        style: { text: "Abundance", fontSize: 30, fontFamily: FONT, fill: "#000", align: "center", verticalAlign: "middle" },
      });
    });
    chart.setOption({
      animation: false,
      backgroundColor: "#fff",
      grid, xAxis, yAxis, series, graphic,
    });
    return () => chart.dispose();
  }, []);
  return (
    <div
      ref={ref}
      style={{ position: "absolute", left: 0, top: 0, width: 939, height: 1198, background: "#fff" }}
    />
  );
}
